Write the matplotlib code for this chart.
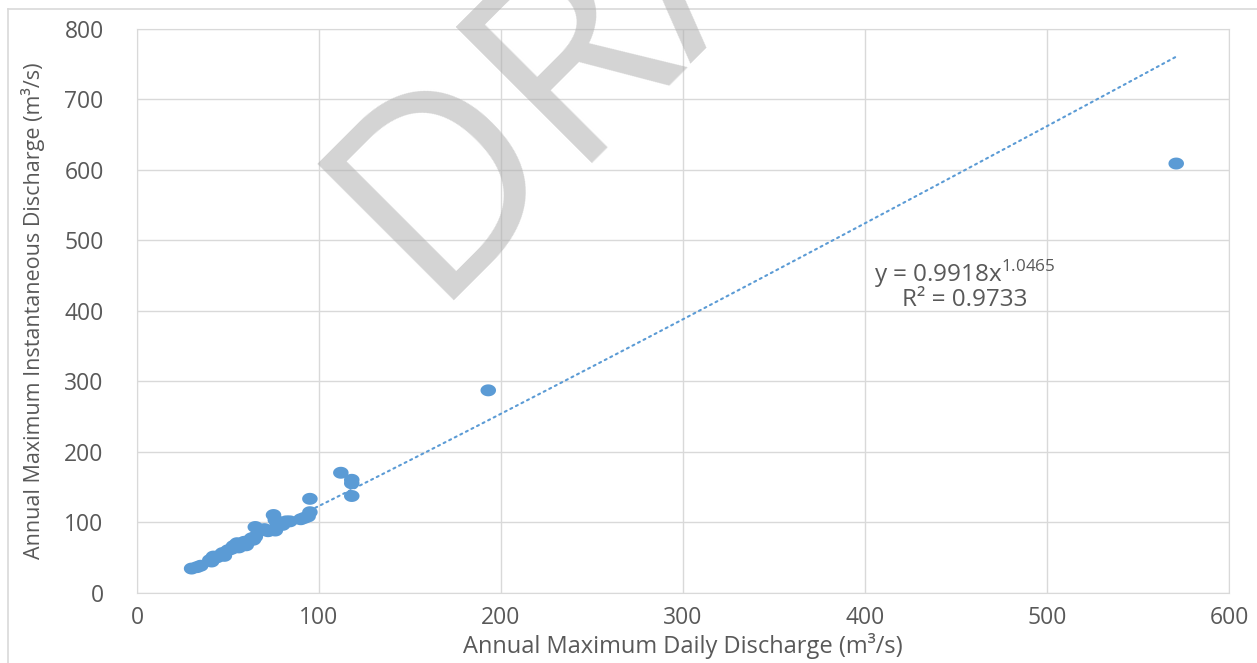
import numpy as np
import matplotlib
matplotlib.use('Agg')
import matplotlib.pyplot as plt
from matplotlib.path import Path
from matplotlib.lines import Line2D

plt.rcParams['font.family'] = ['Open Sans', 'DejaVu Sans']
plt.rcParams['mathtext.fontset'] = 'custom'
plt.rcParams['mathtext.rm'] = 'Open Sans'

# annual maxima (m3/s)
daily_max = [30, 33, 35, 40, 41, 42, 44, 46, 47, 48, 50, 52, 53, 55, 56, 58,
             59, 60, 62, 63, 64, 65, 65, 68, 70, 72, 75, 76, 76, 77, 78, 80,
             82, 84, 90, 92, 94, 95, 95, 112, 118, 118, 118, 193, 571]
inst_max = [34, 36, 38, 46, 44, 51, 50, 53, 56, 52, 60, 62, 66, 70, 64, 68,
            72, 67, 74, 77, 75, 79, 93, 88, 90, 87, 110, 103, 88, 95, 98, 96,
            101, 101, 104, 106, 108, 133, 114, 170, 160, 155, 137, 287, 609]

# power trendline from the chart label
coef_a = 0.9918
coef_b = 1.0465
r_squared = 0.9733

x_ticks = [0, 100, 200, 300, 400, 500, 600]
y_ticks = [0, 100, 200, 300, 400, 500, 600, 700, 800]

blue = '#5b9bd5'
grid_c = '#d9d9d9'
txt_c = '#595959'

fig = plt.figure(figsize=(12.57, 6.63), dpi=100)
ax = fig.add_axes([137 / 1257, 1 - 592.5 / 663, (1229 - 137) / 1257, (592.5 - 29) / 663])

# trendline
xs = np.linspace(min(daily_max), max(daily_max), 300)
ax.plot(xs, coef_a * xs ** coef_b, color=blue, lw=1.5, ls=(0, (1, 2)),
        dash_capstyle='round', zorder=2)

# slightly wide oval markers like the source
t = np.linspace(0, 2 * np.pi, 60)
oval = Path(np.column_stack([1.3 * np.cos(t), np.sin(t)]), closed=True)
ax.scatter(daily_max, inst_max, s=125, marker=oval, color=blue,
           edgecolors='none', zorder=3)

ax.set_xlim(0, 600)
ax.set_ylim(0, 800)
ax.set_xticks(x_ticks)
ax.set_yticks(y_ticks)
ax.grid(True, color=grid_c, lw=1)
ax.set_axisbelow(True)
for sp in ax.spines.values():
    sp.set_color(grid_c)
ax.tick_params(length=0, labelsize=16.5, labelcolor=txt_c)
ax.tick_params(axis='y', pad=24)
ax.tick_params(axis='x', pad=10)

ax.set_xlabel('Annual Maximum Daily Discharge (m³/s)', fontsize=17, color=txt_c, labelpad=2)
ax.set_ylabel('Annual Maximum Instantaneous Discharge (m³/s)', fontsize=15.5, color=txt_c, labelpad=14)

ax.text(455, 452, 'y = %.4fx$^{%.4f}$' % (coef_a, coef_b), ha='center', va='center',
        fontsize=17.5, color=txt_c)
ax.text(455, 415, 'R² = %.4f' % r_squared, ha='center', va='center',
        fontsize=17.5, color=txt_c)

# outer frame of the exported chart
fig.add_artist(Line2D([8 / 1257, 8 / 1257], [0, 1 - 9 / 663], color=grid_c, lw=1.2))
fig.add_artist(Line2D([8 / 1257, 1], [1 - 9 / 663, 1 - 9 / 663], color=grid_c, lw=1.2))

# watermark (runs off the top edge in the source too)
fig.text(428 / 1257, 1 - 301 / 663, 'DRAFT', fontsize=194, rotation=45,
         rotation_mode='anchor', ha='left', va='baseline',
         color='#b0b0b0', alpha=0.55, zorder=10)

fig.savefig('out.png', dpi=100)
